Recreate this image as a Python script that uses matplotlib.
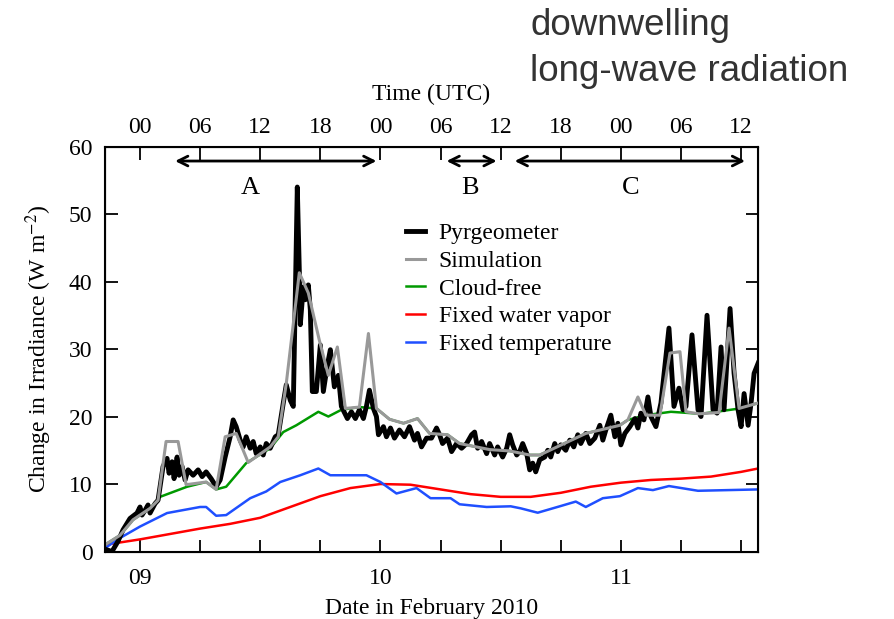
import matplotlib
matplotlib.use("Agg")
from matplotlib import pyplot as plt
from matplotlib.ticker import FixedLocator, FixedFormatter

plt.rcParams["font.family"] = ["Liberation Serif", "DejaVu Serif"]
plt.rcParams["mathtext.fontset"] = "stix"

# x values are hours since 2010-02-09 00 UTC
pyr_h = [-3.4, -2.8, -2.2, -1.7, -1.0, -0.3, 0.0, 0.2, 0.5, 0.8, 1.0, 1.5, 1.8, 2.3, 2.7, 2.9, 3.2, 3.4,
         3.7, 3.9, 4.2, 4.5, 4.8, 5.3, 5.8, 6.2, 6.6, 7.1, 7.6, 8.0, 8.5, 9.0, 9.3, 9.6, 10.0, 10.3, 10.6,
         11.0, 11.3, 11.6, 12.0, 12.3, 12.6, 13.0, 13.5, 13.8, 14.3, 14.6, 15.0, 15.3, 15.7, 15.9, 16.0,
         16.3, 16.5, 16.8, 17.0, 17.2, 17.6, 18.0, 18.3, 18.7, 19.0, 19.4, 19.8, 20.1, 20.7, 21.1, 21.5,
         21.9, 22.3, 22.6, 22.9, 23.3, 23.6, 23.8, 24.3, 24.6, 25.0, 25.4, 25.9, 26.4, 26.9, 27.4, 27.7,
         28.1, 28.6, 29.1, 29.6, 29.9, 30.2, 30.7, 31.1, 31.6, 32.1, 32.6, 33.1, 33.4, 33.7, 34.1, 34.6,
         34.9, 35.4, 35.7, 36.2, 36.6, 36.9, 37.2, 37.6, 37.9, 38.2, 38.6, 38.9, 39.2, 39.5, 39.9, 40.4,
         40.7, 41.0, 41.4, 41.7, 42.0, 42.5, 42.9, 43.3, 43.7, 44.0, 44.5, 44.9, 45.4, 45.9, 46.2, 46.5,
         47.0, 47.4, 47.7, 48.0, 48.4, 48.9, 49.4, 49.7, 50.0, 50.3, 50.7, 51.0, 51.5, 52.0, 52.8, 53.3,
         53.8, 54.2, 54.5, 55.1, 55.7, 56.0, 56.6, 57.2, 57.6, 58.0, 58.3, 58.9, 59.3, 59.7, 60.0, 60.3,
         60.7, 61.0, 61.3, 61.7]
pyr_v = [0.3, 0.0, 1.5, 3.2, 4.9, 5.7, 6.6, 5.4, 6.1, 6.9, 5.7, 7.1, 7.6, 12.6, 13.8, 11.6, 13.3, 10.8,
         14.0, 11.3, 12.6, 10.6, 12.1, 11.3, 12.1, 11.1, 11.8, 10.8, 9.6, 10.6, 14.0, 17.0, 19.5, 18.5,
         16.5, 15.5, 17.0, 15.3, 16.3, 14.5, 15.5, 14.3, 16.0, 15.3, 17.0, 17.3, 22.0, 24.7, 22.4, 21.5,
         54.0, 41.7, 33.6, 39.2, 37.3, 39.5, 35.8, 23.7, 23.7, 30.6, 23.7, 27.6, 29.9, 24.4, 26.1, 21.5,
         19.7, 20.7, 19.7, 21.0, 19.7, 21.5, 23.9, 21.2, 20.0, 17.3, 18.5, 17.0, 18.3, 16.8, 18.0, 17.0,
         18.5, 16.5, 17.5, 15.5, 16.8, 16.8, 18.3, 17.3, 16.0, 16.8, 14.8, 16.0, 15.3, 16.0, 17.3, 17.7,
         15.3, 16.3, 14.5, 16.0, 14.3, 15.5, 14.0, 15.3, 17.3, 15.8, 14.3, 14.8, 16.0, 14.5, 12.1, 13.1,
         11.8, 13.6, 14.0, 15.0, 14.0, 16.0, 14.8, 15.8, 15.0, 16.5, 15.5, 17.3, 16.0, 17.5, 16.0, 16.8,
         18.7, 16.5, 18.0, 20.2, 17.0, 19.0, 15.8, 17.5, 18.5, 19.7, 18.3, 20.5, 19.5, 22.9, 20.0, 18.5,
         22.0, 33.1, 21.5, 24.2, 21.0, 21.5, 32.1, 21.0, 20.0, 35.0, 21.0, 20.5, 30.3, 21.0, 36.0, 26.4,
         21.0, 18.5, 23.4, 18.7, 22.0, 26.4, 27.9]

sim_h = [-3.5, -2.0, -0.7, 1.0, 1.8, 2.6, 3.8, 4.6, 6.6, 7.6, 8.5, 9.6, 10.8, 13.0, 13.8, 14.6, 15.9,
         16.8, 17.9, 18.8, 19.7, 20.5, 21.9, 22.8, 23.6, 24.9, 26.3, 27.7, 28.9, 30.7, 31.9, 34.9, 36.9,
         38.9, 39.9, 42.2, 44.5, 47.9, 48.7, 49.7, 50.5, 51.9, 52.9, 53.9, 54.5, 55.8, 57.8, 58.8, 59.8,
         61.7]
sim_v = [1.0, 2.4, 4.7, 6.4, 7.6, 16.3, 16.3, 9.9, 10.3, 9.2, 17.0, 17.5, 13.2, 15.5, 17.0, 24.9, 41.3,
         38.3, 31.3, 26.1, 30.3, 21.2, 21.4, 32.3, 21.2, 19.6, 19.0, 19.7, 17.5, 17.3, 16.0, 15.1, 14.9,
         14.3, 14.3, 15.9, 17.5, 18.7, 19.5, 22.9, 20.2, 20.2, 29.4, 29.6, 20.7, 20.4, 20.6, 33.1, 21.2,
         22.0]

clr_h = [-3.5, -2.0, -0.7, 1.0, 2.0, 4.7, 6.6, 7.6, 8.6, 10.6, 13.0, 14.3, 15.6, 17.8, 18.8, 20.1, 21.9,
         23.6, 24.9, 26.3, 27.7, 28.9, 30.7, 31.9, 34.9, 36.9, 38.9, 39.9, 42.2, 44.5, 47.9, 48.7, 50.5,
         53.0, 56.0, 58.0, 59.9, 61.7]
clr_v = [1.0, 2.4, 4.7, 6.4, 8.1, 9.6, 10.3, 9.2, 9.6, 13.1, 15.3, 17.7, 18.7, 20.7, 20.0, 21.0, 21.4,
         21.2, 19.6, 19.0, 19.7, 17.5, 17.3, 16.0, 15.1, 14.9, 14.3, 14.3, 15.9, 17.5, 18.7, 19.5, 20.2,
         20.7, 20.4, 20.8, 21.2, 22.0]

wv_h = [-3.5, 0, 3, 6, 9, 12, 15, 18, 21, 24, 27, 30, 33, 36, 39, 42, 45, 48, 51, 54, 57, 60, 61.7]
wv_v = [1.0, 1.8, 2.6, 3.4, 4.1, 5.0, 6.6, 8.2, 9.4, 10.0, 9.9, 9.2, 8.5, 8.1, 8.1, 8.7, 9.6, 10.2,
        10.6, 10.8, 11.1, 11.8, 12.3]

tmp_h = [-3.5, -2.0, 0.0, 2.7, 6.0, 6.6, 7.6, 8.6, 11.0, 12.6, 14.0, 16.0, 17.8, 19.0, 22.6, 24.0, 25.6,
         27.6, 29.0, 31.0, 31.9, 34.6, 37.0, 38.0, 39.7, 41.9, 43.5, 44.5, 46.2, 47.9, 49.7, 51.2, 52.8,
         55.7, 61.7]
tmp_v = [0.5, 2.0, 3.7, 5.7, 6.6, 6.6, 5.3, 5.4, 7.9, 8.9, 10.3, 11.3, 12.3, 11.3, 11.3, 10.3, 8.6,
         9.4, 7.9, 7.9, 7.0, 6.6, 6.7, 6.4, 5.75, 6.7, 7.4, 6.6, 7.9, 8.2, 9.4, 9.1, 9.7, 9.0, 9.2]

# period name, arrow start, arrow end, label position
periods = [("A", 3.5, 23.6, 11.0), ("B", 30.6, 35.6, 32.9), ("C", 37.4, 60.4, 49.0)]

fig = plt.figure(figsize=(8.94, 6.19), dpi=100)
ax = fig.add_axes([0.1174, 0.109, 0.7306, 0.6543])

l_wv, = ax.plot(wv_h, wv_v, color="#ff0000", lw=1.8, zorder=2)
l_tmp, = ax.plot(tmp_h, tmp_v, color="#1f4fff", lw=1.8, zorder=2)
l_clr, = ax.plot(clr_h, clr_v, color="#009900", lw=1.8, zorder=3)
l_pyr, = ax.plot(pyr_h, pyr_v, color="black", lw=3.5, zorder=4)
l_sim, = ax.plot(sim_h, sim_v, color="#999999", lw=2.2, zorder=5)

ax.set_xlim(-3.5, 61.7)
ax.set_ylim(0, 60)
ax.set_yticks(range(0, 61, 10))
six = list(range(0, 61, 6))
ax.xaxis.set_major_locator(FixedLocator(six))
ax.xaxis.set_major_formatter(FixedFormatter(["09" if h == 0 else "10" if h == 24 else "11" if h == 48 else ""
                                             for h in six]))
ax.tick_params(direction="in", length=9, width=1.3, labelsize=17, right=True)
ax.tick_params(axis="x", pad=12)
ax.tick_params(axis="y", pad=9)
ax.set_xlabel("Date in February 2010", fontsize=17, labelpad=6)
ax.set_ylabel("Change in Irradiance (W m$^{-2}$)", fontsize=17, labelpad=11)
for s in ax.spines.values():
    s.set_linewidth(1.5)

top = ax.twiny()
top.set_xlim(ax.get_xlim())
top.xaxis.set_major_locator(FixedLocator(six))
top.xaxis.set_major_formatter(FixedFormatter(["%02d" % (h % 24) for h in six]))
top.tick_params(direction="in", length=9, width=1.3, labelsize=17, pad=6)
top.set_xlabel("Time (UTC)", fontsize=17, labelpad=12)

for name, x0, x1, xl in periods:
    ax.annotate("", xy=(x1, 57.85), xytext=(x0, 57.85),
                arrowprops=dict(arrowstyle="<->,head_length=0.7,head_width=0.35", lw=2, color="black",
                                shrinkA=0, shrinkB=0))
    ax.text(xl, 53.9, name, fontsize=19, ha="center", va="center")

ax.legend([l_pyr, l_sim, l_clr, l_wv, l_tmp],
          ["Pyrgeometer", "Simulation", "Cloud-free", "Fixed water vapor", "Fixed temperature"],
          loc="upper left", bbox_to_anchor=(0.446, 0.835), frameon=False, fontsize=17,
          handlelength=0.8, handletextpad=0.6, labelspacing=0.26, borderaxespad=0)

fig.text(0.593, 0.987, "downwelling\nlong-wave radiation", family="Liberation Sans", fontsize=26.5,
         color="#333333", ha="left", va="top", linespacing=1.42)

fig.savefig("out.png", dpi=100)
